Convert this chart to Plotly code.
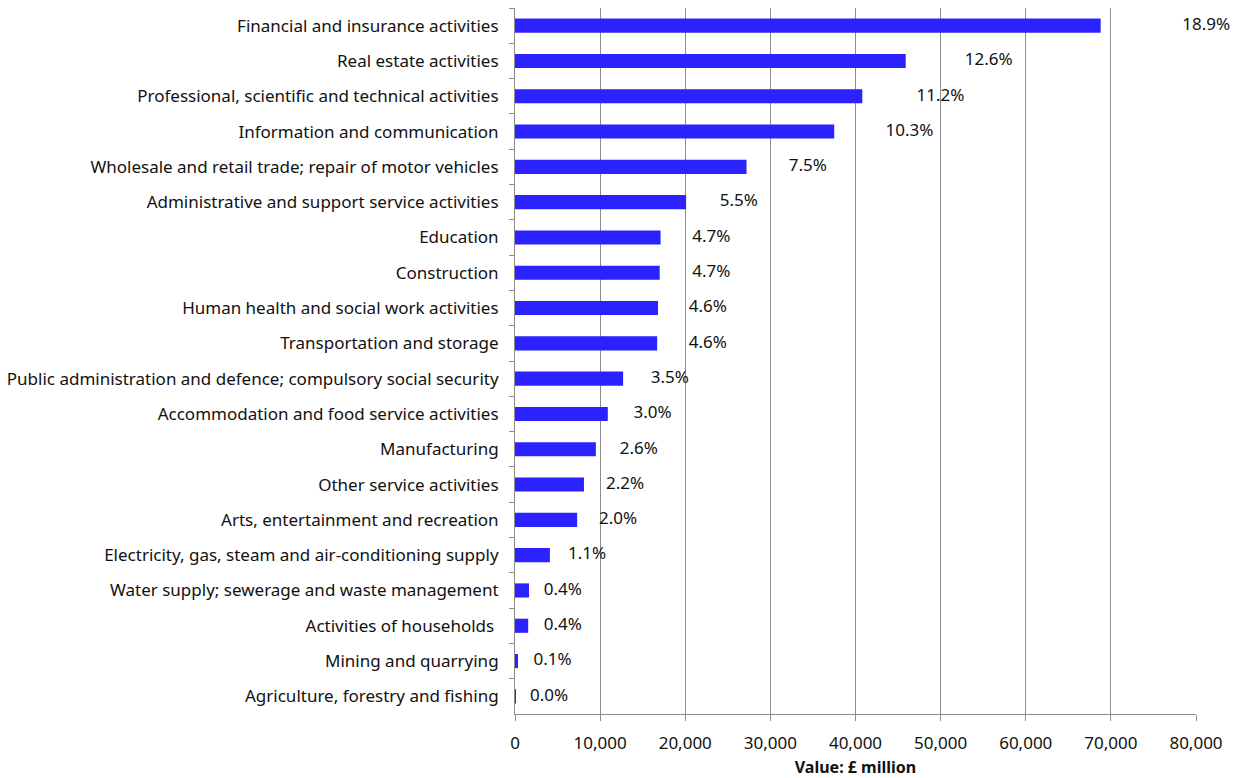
import plotly.graph_objects as go

categories = [
    "Financial and insurance activities",
    "Real estate activities",
    "Professional, scientific and technical activities",
    "Information and communication",
    "Wholesale and retail trade; repair of motor vehicles",
    "Administrative and support service activities",
    "Education",
    "Construction",
    "Human health and social work activities",
    "Transportation and storage",
    "Public administration and defence; compulsory social security",
    "Accommodation and food service activities",
    "Manufacturing",
    "Other service activities",
    "Arts, entertainment and recreation",
    "Electricity, gas, steam and air-conditioning supply",
    "Water supply; sewerage and waste management",
    "Activities of households ",
    "Mining and quarrying",
    "Agriculture, forestry and fishing",
]
values = [68800, 45900, 40800, 37500, 27200, 20100, 17100, 17000, 16800, 16700,
          12700, 10900, 9500, 8100, 7300, 4100, 1650, 1550, 350, 40]
shares = [18.9, 12.6, 11.2, 10.3, 7.5, 5.5, 4.7, 4.7, 4.6, 4.6,
          3.5, 3.0, 2.6, 2.2, 2.0, 1.1, 0.4, 0.4, 0.1, 0.0]
x_ticks = [0, 10000, 20000, 30000, 40000, 50000, 60000, 70000, 80000]

FONT = "Noto Sans, sans-serif"

fig = go.Figure()

fig.add_trace(go.Bar(
    y=categories,
    x=values,
    orientation="h",
    marker=dict(color="#2B22FF", line=dict(width=0)),
    width=0.4,
    hoverinfo="x+y",
))

# percentage labels sit on their own hidden scale
fig.add_trace(go.Scatter(
    y=categories,
    x=shares,
    xaxis="x2",
    mode="text",
    text=[f"{s:.1f}%" for s in shares],
    textposition="middle right",
    textfont=dict(size=17, color="#111111", family=FONT),
    cliponaxis=False,
    hoverinfo="skip",
))

# page body adds 8px around the figure, so size it to fit the window
fig.update_layout(
    width=1232,
    height=770,
    autosize=False,
    margin=dict(l=507, r=44, t=0, b=64, autoexpand=False),
    paper_bgcolor="white",
    plot_bgcolor="white",
    showlegend=False,
    font=dict(family=FONT, size=17, color="#111111"),
    xaxis=dict(
        range=[0, 80000],
        tickvals=x_ticks,
        tickformat=",",
        showgrid=True,
        gridcolor="#8c8c8c",
        gridwidth=1,
        showline=True,
        linecolor="#8c8c8c",
        ticks="outside",
        ticklen=6,
        tickcolor="#8c8c8c",
        zeroline=False,
        automargin=False,
        tickfont=dict(size=17),
        ticklabelstandoff=8,
        title=dict(text="<b>Value: £ million</b>", font=dict(size=16), standoff=10),
    ),
    xaxis2=dict(
        range=[-0.435, 19.3],
        overlaying="x",
        side="top",
        visible=False,
    ),
    yaxis=dict(
        range=[len(categories) - 0.5, -0.5],
        showline=True,
        linecolor="#8c8c8c",
        ticks="outside",
        tickson="boundaries",
        ticklen=5,
        tickcolor="#8c8c8c",
        showgrid=False,
        automargin=False,
        tickfont=dict(size=17),
        ticklabelstandoff=12,
    ),
)

fig.write_html("out.html")
